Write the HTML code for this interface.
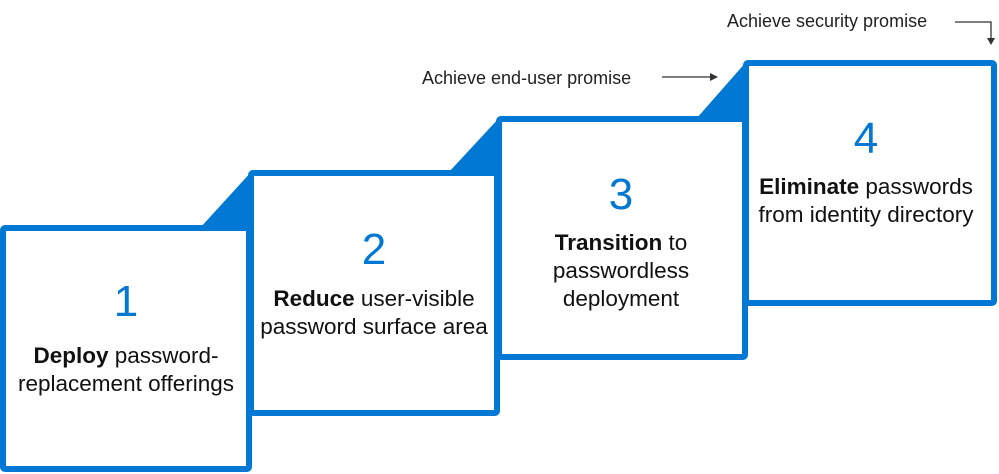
<!DOCTYPE html>
<html><head><meta charset="utf-8"><style>
html,body{margin:0;padding:0;background:#fff;}
svg{display:block;}
text{font-family:"Liberation Sans",sans-serif;}
.n{fill:#0078d4;font-size:44px;text-anchor:middle;}
.t{fill:#111;font-size:22.5px;text-anchor:middle;}
.b{font-weight:bold;}
.l{fill:#222;font-size:18px;}
</style></head><body>
<svg width="999" height="474" viewBox="0 0 999 474" xmlns="http://www.w3.org/2000/svg">
<g fill="#0078d4">
<polygon points="200,228 252,171 252,228"/>
<polygon points="448,173 500,117 500,173"/>
<polygon points="696,119 747,61 747,119"/>
</g>
<g fill="#fff" stroke="#0078d4" stroke-width="6">
<rect x="3" y="228" width="246" height="241" rx="2"/>
<rect x="251" y="173" width="246" height="240" rx="2"/>
<rect x="499" y="119" width="246" height="238" rx="2"/>
<rect x="746" y="63" width="248" height="240" rx="2"/>
</g>
<text class="n" x="126" y="316">1</text>
<text class="t" x="126" y="363"><tspan class="b">Deploy</tspan> password-</text>
<text class="t" x="126" y="391">replacement offerings</text>
<text class="n" x="374" y="264">2</text>
<text class="t" x="374" y="306"><tspan class="b">Reduce</tspan> user-visible</text>
<text class="t" x="374" y="334">password surface area</text>
<text class="n" x="621" y="209">3</text>
<text class="t" x="621" y="250"><tspan class="b">Transition</tspan> to</text>
<text class="t" x="621" y="278">passwordless</text>
<text class="t" x="621" y="306">deployment</text>
<text class="n" x="866" y="153">4</text>
<text class="t" x="866" y="194"><tspan class="b">Eliminate</tspan> passwords</text>
<text class="t" x="866" y="222">from identity directory</text>
<text class="l" x="422" y="84">Achieve end-user promise</text>
<text class="l" x="727" y="27">Achieve security promise</text>
<g stroke="#333" stroke-width="1.3" fill="none">
<line x1="662" y1="77" x2="712" y2="77"/>
<polyline points="955,22 991,22 991,40"/>
</g>
<g fill="#333">
<polygon points="718,77 710,73 710,81"/>
<polygon points="991,45 987,38 995,38"/>
</g>
</svg>
</body></html>
